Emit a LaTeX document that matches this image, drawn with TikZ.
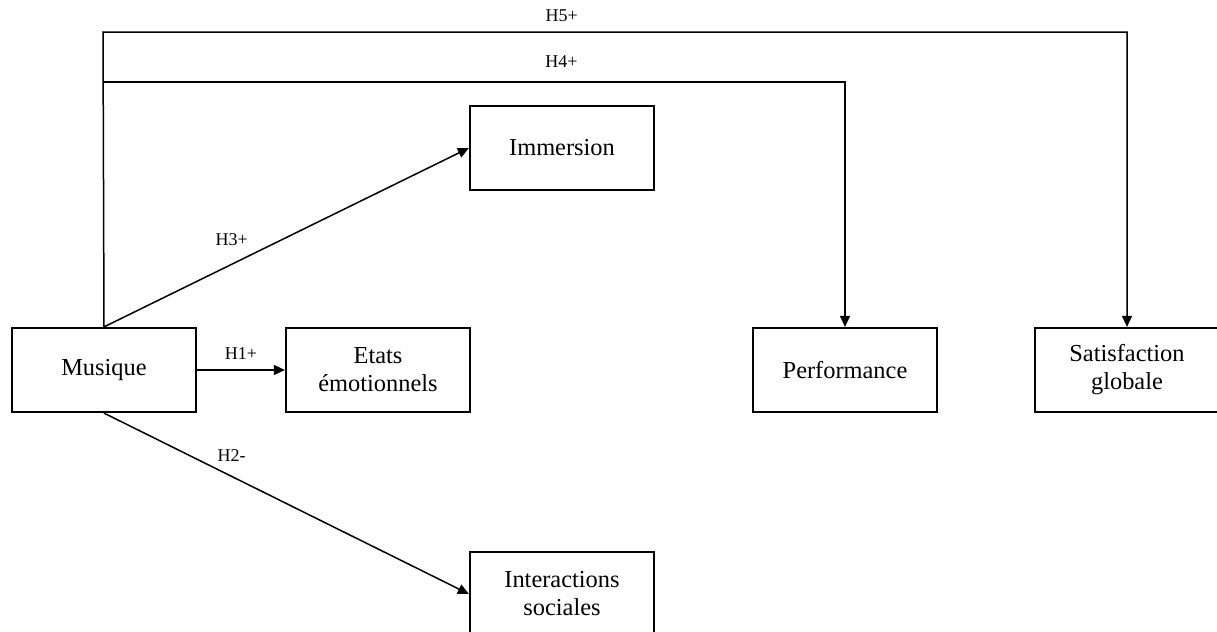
\documentclass[tikz,border=0pt]{standalone}
\usepackage{fontspec}
\setmainfont{Liberation Serif}
\usetikzlibrary{positioning,arrows.meta}
\tikzset{
  var/.style={rectangle,draw=black,line width=1.1pt,fill=white,
    minimum width=92pt,minimum height=42pt,align=center,
    font=\fontsize{12.2}{14}\selectfont,inner sep=2pt},
  lbl/.style={font=\fontsize{9}{10}\selectfont,inner sep=1pt},
  arr/.style={-{Triangle[length=5.5pt,width=5pt]},line width=0.75pt},
}
\begin{document}
\begin{tikzpicture}[x=0.5pt,y=-0.5pt]
\useasboundingbox (0,0) rectangle (1217,632);

% --- variables ---
\node[var] (mus)  at (104,370)  {Musique};
\node[var] (emo)  at (378,370)  {Etats\\émotionnels};
\node[var] (imm)  at (562,148)  {Immersion};
\node[var] (soc)  at (562,594)  {Interactions\\sociales};
\node[var] (perf) at (845,370)  {Performance};
\node[var] (sat)  at (1127,370) {Satisfaction\\globale};

% --- corners of the long paths ---
\coordinate (h5c) at (103,32);
\coordinate (h4c) at (103,82);

% --- hypotheses ---
\draw[arr] (mus.east) -- node[lbl,above=4pt] {H1+} (emo.west);
\draw[arr] (mus.north) -- node[lbl,pos=0.35,above=8pt] {H3+} (imm.west);
\draw[arr] (mus.south) -- node[lbl,pos=0.35,above=6pt] {H2-} (soc.west);

% long routes over the top
\draw[arr] (mus.north) -- (h5c) -| node[lbl,pos=0.224,above=4pt] {H5+} (sat.north);
\draw[arr] (h4c) -| node[lbl,pos=0.309,above=6pt] {H4+} (perf.north);

\end{tikzpicture}
\end{document}
